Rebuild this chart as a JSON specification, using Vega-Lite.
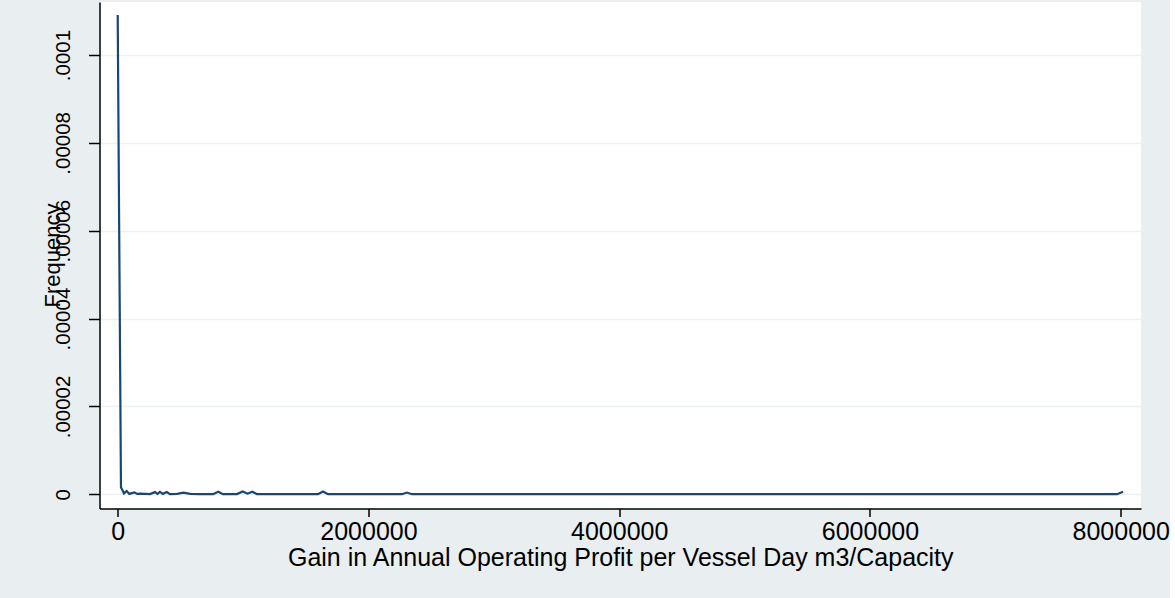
{
  "$schema": "https://vega.github.io/schema/vega-lite/v6.json",
  "width": 1041.5,
  "height": 506.5,
  "autosize": {"type": "none"},
  "padding": {"left": 99.5, "top": 2, "right": 29, "bottom": 89.5},
  "background": "#e9eff0",
  "view": {"fill": "white", "stroke": null},
  "config": {"font": "Liberation Sans"},
  "data": {
    "values": [
      {"gain": 0, "frequency": 0.0001091},
      {"gain": 26000, "frequency": 0.0000016},
      {"gain": 50000, "frequency": 0.0000002},
      {"gain": 72000, "frequency": 0.00000075},
      {"gain": 92500, "frequency": 0.0000001},
      {"gain": 132000, "frequency": 0.00000045},
      {"gain": 156000, "frequency": 0.0000001},
      {"gain": 178000, "frequency": 0.00000015},
      {"gain": 258000, "frequency": 0.00000005},
      {"gain": 297500, "frequency": 0.0000005},
      {"gain": 317000, "frequency": 0.0000001},
      {"gain": 337000, "frequency": 0.00000055},
      {"gain": 361000, "frequency": 0.0000001},
      {"gain": 391000, "frequency": 0.0000005},
      {"gain": 417000, "frequency": 0.00000005},
      {"gain": 473000, "frequency": 0.0000001},
      {"gain": 525000, "frequency": 0.0000004},
      {"gain": 577000, "frequency": 0.0000001},
      {"gain": 656000, "frequency": 0.00000002},
      {"gain": 760000, "frequency": 0.00000002},
      {"gain": 802000, "frequency": 0.0000006},
      {"gain": 840000, "frequency": 0.00000002},
      {"gain": 951000, "frequency": 0.00000005},
      {"gain": 997000, "frequency": 0.00000065},
      {"gain": 1035000, "frequency": 0.00000015},
      {"gain": 1075000, "frequency": 0.0000006},
      {"gain": 1111000, "frequency": 0.00000002},
      {"gain": 1598000, "frequency": 0.00000002},
      {"gain": 1637000, "frequency": 0.00000065},
      {"gain": 1677000, "frequency": 0.00000002},
      {"gain": 2267000, "frequency": 0.00000002},
      {"gain": 2307000, "frequency": 0.0000004},
      {"gain": 2347000, "frequency": 0.00000002},
      {"gain": 7971000, "frequency": 0.00000002},
      {"gain": 8019000, "frequency": 0.0000006}
    ]
  },
  "mark": {"type": "line", "color": "#1a476f", "strokeWidth": 2.2, "clip": true},
  "encoding": {
    "x": {
      "field": "gain",
      "type": "quantitative",
      "scale": {"domain": [-145200, 8162000], "nice": false, "zero": false},
      "axis": {
        "title": "Gain in Annual Operating Profit per Vessel Day m3/Capacity",
        "values": [0, 2000000, 4000000, 6000000, 8000000],
        "format": "d",
        "grid": false,
        "domainColor": "#000000",
        "domainWidth": 1.5,
        "tickColor": "#000000",
        "tickWidth": 1.5,
        "tickSize": 8,
        "labelFontSize": 25,
        "labelColor": "#000000",
        "labelPadding": 3,
        "labelFlush": false,
        "labelOverlap": false,
        "titleFontSize": 25,
        "titleFontWeight": "normal",
        "titleColor": "#000000",
        "titlePadding": 1
      }
    },
    "y": {
      "field": "frequency",
      "type": "quantitative",
      "scale": {"domain": [-0.00000323, 0.00011206], "nice": false, "zero": false},
      "axis": {
        "title": "Frequency",
        "values": [0, 0.00002, 0.00004, 0.00006, 0.00008, 0.0001],
        "labelExpr": "datum.value == 0 ? '0' : substring(format(datum.value, '.5~f'), 1)",
        "grid": true,
        "gridColor": "#eaf2f3",
        "gridWidth": 1.5,
        "domainColor": "#000000",
        "domainWidth": 1.5,
        "tickColor": "#000000",
        "tickWidth": 1.5,
        "tickSize": 11,
        "labelFontSize": 20.5,
        "labelColor": "#000000",
        "labelAngle": -90,
        "labelAlign": "center",
        "labelBaseline": "middle",
        "labelPadding": 25,
        "labelOverlap": false,
        "labelFlush": false,
        "titleFontSize": 22,
        "titleFontWeight": "normal",
        "titleColor": "#000000",
        "titleAngle": -90,
        "titleAlign": "center",
        "titleBaseline": "middle",
        "titleX": -47,
        "titleY": 253
      }
    }
  }
}
